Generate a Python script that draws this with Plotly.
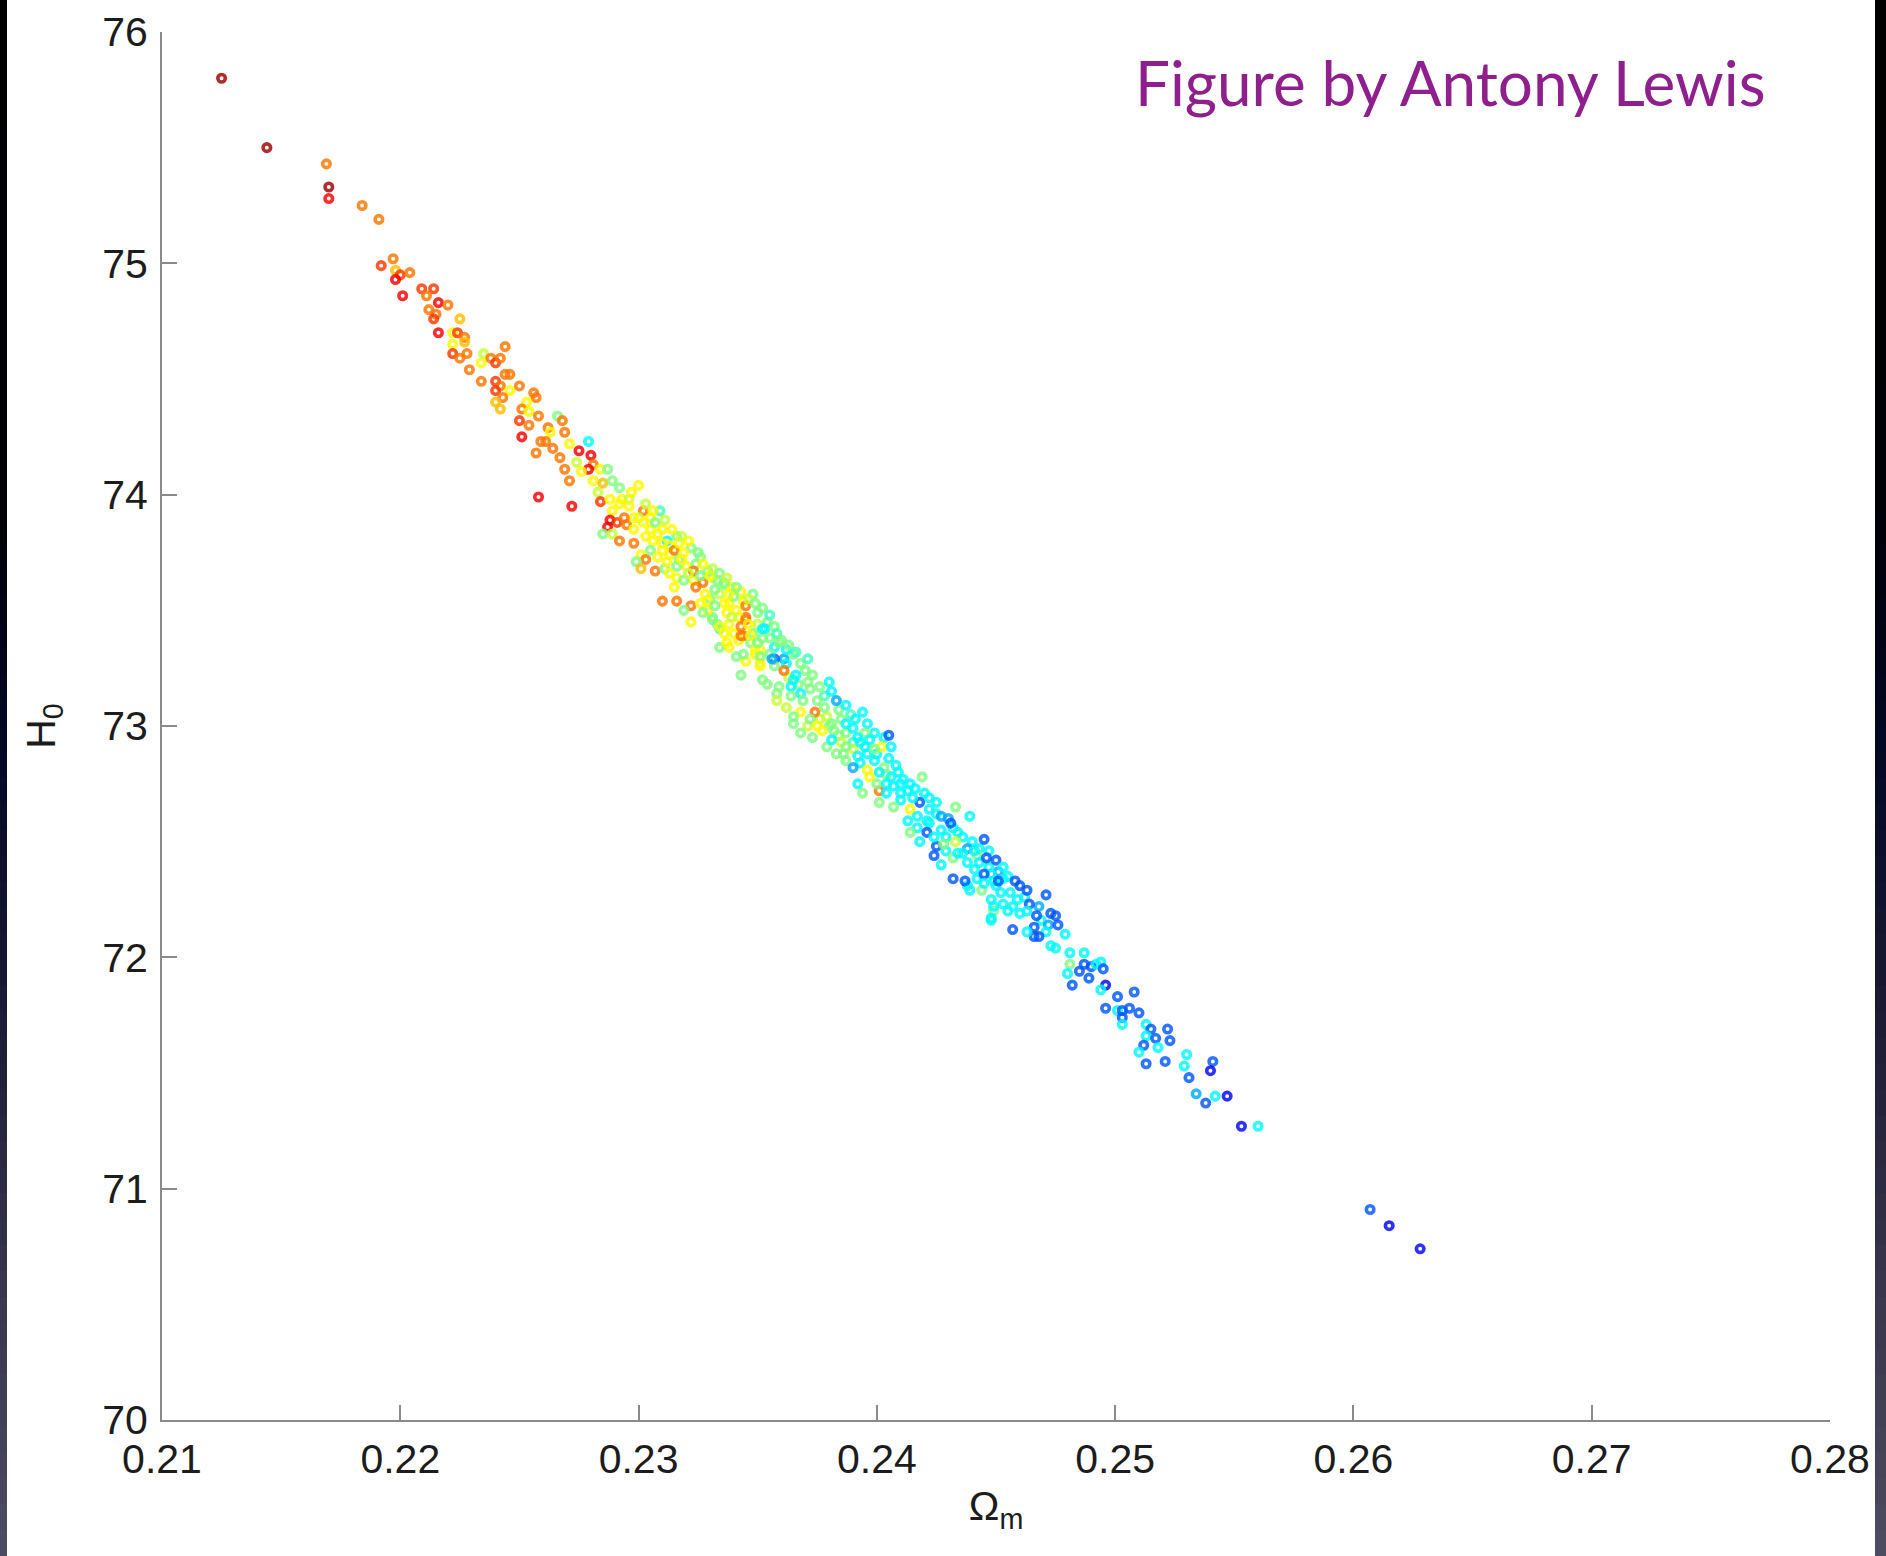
import plotly.graph_objects as go

# Posterior samples: matter density vs Hubble constant, coloured by a third parameter (0..1 on jet scale)
omega_m = [
    # upper tail
    0.2125, 0.2144, 0.2169, 0.2170, 0.2170, 0.2184, 0.2191, 0.2192,
    0.2197, 0.2198, 0.2200, 0.2198, 0.2204, 0.2201, 0.2209, 0.2214,
    0.2211, 0.2216, 0.2220, 0.2212, 0.2215, 0.2214, 0.2225, 0.2216,
    0.2222, 0.2224, 0.2227, 0.2227, 0.2222, 0.2244, 0.2222, 0.2225,
    0.2228, 0.2235, 0.2234, 0.2238, 0.2240, 0.2242, 0.2229, 0.2244,
    0.2246, 0.2234, 0.2240, 0.2242, 0.2240, 0.2246, 0.2250, 0.2243,
    0.2240, 0.2242, 0.2256, 0.2257, 0.2253, 0.2251, 0.2254, 0.2258,
    0.2266, 0.2250, 0.2254, 0.2262, 0.2268, 0.2263, 0.2251,
    # upper core
    0.2279, 0.2257, 0.2258, 0.2272, 0.2271, 0.2269, 0.2267, 0.2264,
    0.2259, 0.2261, 0.2269, 0.2271, 0.2275, 0.2280, 0.2274, 0.2281,
    0.2279, 0.2276, 0.2284, 0.2287, 0.2281, 0.2285, 0.2289, 0.2292,
    0.2283, 0.2284, 0.2288, 0.2293, 0.2296, 0.2300, 0.2289, 0.2288,
    0.2291, 0.2287, 0.2285, 0.2289, 0.2295, 0.2298, 0.2302, 0.2305,
    0.2309, 0.2300, 0.2292, 0.2298, 0.2303, 0.2308, 0.2312, 0.2316,
    0.2310, 0.2301, 0.2303, 0.2299, 0.2301, 0.2307, 0.2311, 0.2313,
    0.2317, 0.2322, 0.2326, 0.2320, 0.2316, 0.2323, 0.2327, 0.2331,
    0.2336, 0.2315, 0.2310, 0.2316, 0.2322, 0.2319, 0.2322, 0.2326,
    0.2330, 0.2334, 0.2343, 0.2348, 0.2338, 0.2331, 0.2337, 0.2341,
    0.2345, 0.2350, 0.2354, 0.2353, 0.2334, 0.2340, 0.2344, 0.2338,
    0.2334, 0.2347, 0.2351, 0.2357, 0.2359, 0.2361, 0.2357, 0.2365,
    0.2345, 0.2351,
    # core, dense part
    0.2292, 0.2296, 0.2298, 0.2294, 0.2302, 0.2305, 0.2307, 0.2310,
    0.2306, 0.2313, 0.2310, 0.2315, 0.2317, 0.2305, 0.2308, 0.2312,
    0.2316, 0.2319, 0.2324, 0.2323, 0.2326, 0.2329, 0.2333, 0.2319,
    0.2313, 0.2324, 0.2328, 0.2332, 0.2339, 0.2340, 0.2344, 0.2345,
    0.2350, 0.2342, 0.2336, 0.2329, 0.2333, 0.2338, 0.2343, 0.2348,
    0.2352, 0.2342, 0.2355, 0.2349, 0.2362,
    0.2336, 0.2329, 0.2332, 0.2345, 0.2327, 0.2334, 0.2343, 0.2352,
    0.2349, 0.2351, 0.2341, 0.2330, 0.2331, 0.2347, 0.2350, 0.2337,
    0.2344, 0.2357, 0.2351, 0.2362,
    0.2297, 0.2303, 0.2306, 0.2311, 0.2314, 0.2318, 0.2321, 0.2318,
    0.2321, 0.2325, 0.2327, 0.2331, 0.2334, 0.2337, 0.2338, 0.2341,
    0.2346, 0.2349, 0.2352, 0.2355, 0.2357, 0.2346, 0.2339, 0.2336,
    0.2355, 0.2358, 0.2360, 0.2363, 0.2366, 0.2368, 0.2370, 0.2363,
    0.2367, 0.2371, 0.2376, 0.2378, 0.2381, 0.2384, 0.2389, 0.2391,
    0.2396, 0.2399, 0.2403, 0.2395, 0.2376, 0.2380, 0.2384, 0.2390,
    0.2395, 0.2400, 0.2405, 0.2409, 0.2404, 0.2416, 0.2420, 0.2425,
    0.2425, 0.2430, 0.2432, 0.2436, 0.2440, 0.2438, 0.2443, 0.2447,
    0.2442, 0.2447, 0.2451, 0.2455, 0.2462, 0.2468, 0.2469, 0.2472,
    # lower core
    0.2371, 0.2373, 0.2380, 0.2366, 0.2361, 0.2356, 0.2343, 0.2352,
    0.2358, 0.2364, 0.2368, 0.2372, 0.2375, 0.2383, 0.2387, 0.2394,
    0.2362, 0.2368, 0.2374, 0.2379, 0.2385, 0.2365, 0.2371, 0.2377,
    0.2382, 0.2387, 0.2392, 0.2405, 0.2397, 0.2402, 0.2406, 0.2368,
    0.2379, 0.2385, 0.2390, 0.2396, 0.2383, 0.2387, 0.2393, 0.2399,
    0.2403, 0.2408, 0.2390, 0.2392, 0.2397, 0.2401, 0.2406, 0.2411,
    0.2419, 0.2394, 0.2401, 0.2401, 0.2407, 0.2413, 0.2410, 0.2414,
    0.2418, 0.2422, 0.2422, 0.2427, 0.2433, 0.2439, 0.2413, 0.2417,
    0.2422, 0.2421, 0.2414, 0.2418, 0.2427, 0.2431, 0.2434, 0.2433,
    0.2425, 0.2429, 0.2424, 0.2427, 0.2432, 0.2436, 0.2441, 0.2445,
    0.2438, 0.2443, 0.2446, 0.2450, 0.2453, 0.2432, 0.2438, 0.2444,
    0.2442, 0.2448, 0.2453, 0.2458, 0.2463, 0.2460, 0.2471, 0.2450,
    0.2456, 0.2448, 0.2453, 0.2459, 0.2464, 0.2449, 0.2455, 0.2460,
    0.2467, 0.2473, 0.2475, 0.2476, 0.2448, 0.2457, 0.2466, 0.2471,
    0.2479,
    0.2354, 0.2359, 0.2365, 0.2358, 0.2364, 0.2369, 0.2378, 0.2365,
    0.2372, 0.2375, 0.2381, 0.2387, 0.2390, 0.2373, 0.2381, 0.2387,
    0.2393, 0.2399, 0.2386, 0.2392, 0.2396, 0.2400, 0.2404, 0.2410,
    0.2414, 0.2404, 0.2410, 0.2415, 0.2407, 0.2417, 0.2421, 0.2424,
    0.2429, 0.2428, 0.2434, 0.2441, 0.2445, 0.2449, 0.2445, 0.2452,
    0.2457, 0.2463,
    0.2451, 0.2449, 0.2437, 0.2439, 0.2448,
    # lower tail
    0.2473, 0.2475, 0.2468, 0.2466, 0.2463, 0.2481, 0.2487, 0.2481,
    0.2480, 0.2485, 0.2487, 0.2490, 0.2492, 0.2494, 0.2495, 0.2489,
    0.2482, 0.2496, 0.2494, 0.2508, 0.2501, 0.2496, 0.2501, 0.2503,
    0.2506, 0.2510, 0.2503, 0.2503, 0.2513, 0.2515, 0.2522, 0.2513,
    0.2517, 0.2523, 0.2512, 0.2518, 0.2510, 0.2513, 0.2521, 0.2530,
    0.2529, 0.2541, 0.2540, 0.2531, 0.2534, 0.2538, 0.2542, 0.2547,
    0.2553, 0.2560, 0.2607, 0.2615, 0.2628,
]

h0 = [
    # upper tail
    75.80, 75.50, 75.43, 75.33, 75.28, 75.25, 75.19, 74.99,
    75.02, 74.97, 74.95, 74.93, 74.96, 74.86, 74.89, 74.89,
    74.86, 74.83, 74.82, 74.80, 74.78, 74.76, 74.76, 74.70,
    74.70, 74.70, 74.68, 74.66, 74.65, 74.64, 74.61, 74.59,
    74.61, 74.61, 74.57, 74.59, 74.57, 74.59, 74.54, 74.52,
    74.52, 74.49, 74.49, 74.47, 74.45, 74.45, 74.47, 74.42,
    74.40, 74.37, 74.44, 74.42, 74.40, 74.37, 74.36, 74.34,
    74.34, 74.32, 74.30, 74.29, 74.32, 74.27, 74.25,
    # upper core
    74.23, 74.18, 73.99, 73.95, 74.06, 74.11, 74.16, 74.20,
    74.23, 74.23, 74.27, 74.22, 74.19, 74.17, 74.14, 74.13,
    74.11, 74.10, 74.11, 74.11, 74.06, 74.05, 74.06, 74.03,
    74.01, 73.97, 73.98, 73.98, 73.98, 74.04, 73.93, 73.89,
    73.88, 73.86, 73.83, 73.83, 73.87, 73.85, 73.93, 73.90,
    73.93, 73.90, 73.80, 73.79, 73.82, 73.83, 73.80, 73.82,
    73.79, 73.74, 73.72, 73.71, 73.68, 73.67, 73.68, 73.74,
    73.72, 73.77, 73.73, 73.69, 73.64, 73.63, 73.62, 73.64,
    73.61, 73.60, 73.54, 73.54, 73.52, 73.50, 73.45, 73.53,
    73.55, 73.57, 73.58, 73.57, 73.53, 73.47, 73.49, 73.50,
    73.47, 73.44, 73.45, 73.42, 73.42, 73.40, 73.39, 73.34,
    73.34, 73.36, 73.33, 73.34, 73.36, 73.29, 73.29, 73.31,
    73.28, 73.27,
    # core, dense part
    73.96, 73.95, 73.90, 73.90, 73.88, 73.85, 73.88, 73.85,
    73.80, 73.78, 73.76, 73.76, 73.79, 73.76, 73.73, 73.71,
    73.69, 73.75, 73.70, 73.67, 73.65, 73.67, 73.63, 73.63,
    73.66, 73.60, 73.57, 73.59, 73.60, 73.56, 73.54, 73.52,
    73.49, 73.47, 73.53, 73.50, 73.44, 73.44, 73.43, 73.40,
    73.38, 73.37, 73.31, 73.31, 73.33,
    73.62, 73.54, 73.52, 73.46, 73.49, 73.43, 73.39, 73.42,
    73.33, 73.30, 73.30, 73.65, 73.46, 73.39, 73.36, 73.36,
    73.31, 73.26, 73.26, 73.27,
    74.01, 73.96, 73.93, 73.89, 73.85, 73.82, 73.80, 73.72,
    73.66, 73.75, 73.70, 73.68, 73.66, 73.64, 73.57, 73.60,
    73.55, 73.53, 73.51, 73.48, 73.43, 73.44, 73.47, 73.40,
    73.38, 73.40, 73.37, 73.35, 73.32, 73.27, 73.24, 73.21,
    73.18, 73.19, 73.17, 73.13, 73.15, 73.07, 73.05, 73.03,
    73.01, 72.97, 72.95, 72.97, 73.03, 73.00, 72.96, 72.93,
    72.91, 72.88, 72.86, 72.80, 72.79, 72.73, 72.71, 72.67,
    72.62, 72.60, 72.56, 72.52, 72.50, 72.47, 72.47, 72.46,
    72.44, 72.39, 72.37, 72.35, 72.26, 72.22, 72.16, 72.14,
    # lower core
    73.29, 73.22, 73.19, 73.22, 73.24, 73.29, 73.22, 73.20,
    73.14, 73.17, 73.14, 73.16, 73.11, 73.11, 73.09, 73.06,
    73.08, 73.06, 73.06, 73.04, 73.03, 73.01, 73.00, 72.98,
    72.98, 72.97, 72.95, 72.96, 72.94, 72.91, 72.91, 72.97,
    72.91, 72.93, 72.90, 72.88, 72.88, 72.85, 72.84, 72.85,
    72.82, 72.83, 72.82, 72.75, 72.78, 72.80, 72.78, 72.77,
    72.78, 72.71, 72.72, 72.67, 72.74, 72.72, 72.68, 72.64,
    72.67, 72.69, 72.64, 72.61, 72.65, 72.61, 72.59, 72.56,
    72.58, 72.54, 72.54, 72.50, 72.55, 72.58, 72.54, 72.50,
    72.48, 72.46, 72.44, 72.40, 72.43, 72.45, 72.46, 72.51,
    72.41, 72.41, 72.43, 72.42, 72.39, 72.34, 72.31, 72.29,
    72.34, 72.36, 72.34, 72.33, 72.29, 72.31, 72.27, 72.31,
    72.28, 72.25, 72.23, 72.25, 72.23, 72.20, 72.20, 72.19,
    72.18, 72.19, 72.18, 72.14, 72.17, 72.12, 72.13, 72.11,
    72.10,
    73.18, 73.17, 73.20, 73.11, 73.13, 73.11, 73.08, 73.04,
    73.03, 73.00, 73.01, 73.01, 72.99, 72.95, 72.94, 72.91,
    72.93, 72.90, 72.88, 72.87, 72.81, 72.75, 72.75, 72.75,
    72.75, 72.71, 72.71, 72.69, 72.65, 72.61, 72.59, 72.52,
    72.52, 72.49, 72.45, 72.38, 72.36, 72.33, 72.32, 72.28,
    72.22, 72.20,
    72.33, 72.22, 72.33, 72.29, 72.16,
    # lower tail
    72.05, 72.04, 72.09, 72.09, 72.11, 72.02, 72.02, 71.97,
    71.93, 71.94, 71.97, 71.96, 71.97, 71.98, 71.95, 71.91,
    71.88, 71.88, 71.86, 71.85, 71.83, 71.78, 71.77, 71.77,
    71.78, 71.76, 71.74, 71.71, 71.71, 71.69, 71.69, 71.66,
    71.65, 71.64, 71.62, 71.61, 71.59, 71.54, 71.55, 71.58,
    71.53, 71.55, 71.51, 71.48, 71.41, 71.37, 71.40, 71.40,
    71.27, 71.27, 70.91, 70.84, 70.74,
]

colour = [
    # upper tail
    0.97, 0.97, 0.76, 0.97, 0.88, 0.76, 0.76, 0.82,
    0.76, 0.69, 0.82, 0.88, 0.76, 0.88, 0.82, 0.82,
    0.76, 0.88, 0.76, 0.76, 0.76, 0.82, 0.69, 0.88,
    0.63, 0.82, 0.76, 0.69, 0.63, 0.76, 0.82, 0.76,
    0.76, 0.57, 0.63, 0.76, 0.82, 0.76, 0.76, 0.76,
    0.76, 0.76, 0.82, 0.76, 0.82, 0.63, 0.76, 0.76,
    0.69, 0.69, 0.76, 0.76, 0.63, 0.76, 0.63, 0.76,
    0.50, 0.82, 0.76, 0.76, 0.76, 0.63, 0.88,
    # upper core
    0.37, 0.76, 0.88, 0.88, 0.76, 0.76, 0.76, 0.76,
    0.76, 0.76, 0.76, 0.63, 0.88, 0.88, 0.57, 0.76,
    0.88, 0.63, 0.63, 0.50, 0.63, 0.69, 0.50, 0.50,
    0.57, 0.82, 0.63, 0.63, 0.57, 0.63, 0.63, 0.88,
    0.82, 0.88, 0.50, 0.57, 0.76, 0.63, 0.76, 0.63,
    0.44, 0.57, 0.76, 0.76, 0.63, 0.63, 0.37, 0.50,
    0.63, 0.63, 0.76, 0.50, 0.69, 0.76, 0.50, 0.63,
    0.50, 0.50, 0.50, 0.63, 0.63, 0.63, 0.76, 0.57,
    0.50, 0.63, 0.76, 0.76, 0.76, 0.50, 0.63, 0.63,
    0.50, 0.57, 0.63, 0.50, 0.63, 0.50, 0.63, 0.63,
    0.76, 0.57, 0.50, 0.37, 0.44, 0.63, 0.76, 0.63,
    0.50, 0.50, 0.63, 0.37, 0.50, 0.29, 0.21, 0.50,
    0.63, 0.63,
    # core, dense part
    0.63, 0.63, 0.63, 0.76, 0.63, 0.63, 0.50, 0.63,
    0.63, 0.63, 0.63, 0.76, 0.63, 0.50, 0.63, 0.63,
    0.50, 0.63, 0.50, 0.76, 0.50, 0.50, 0.50, 0.50,
    0.63, 0.76, 0.63, 0.50, 0.63, 0.50, 0.63, 0.76,
    0.50, 0.63, 0.63, 0.63, 0.50, 0.63, 0.76, 0.50,
    0.50, 0.63, 0.50, 0.63, 0.37,
    0.50, 0.63, 0.50, 0.76, 0.50, 0.63, 0.76, 0.37,
    0.63, 0.50, 0.50, 0.63, 0.50, 0.63, 0.50, 0.63,
    0.50, 0.50, 0.63, 0.37,
    0.63, 0.57, 0.63, 0.57, 0.63, 0.57, 0.63, 0.63,
    0.57, 0.50, 0.63, 0.57, 0.50, 0.57, 0.63, 0.50,
    0.57, 0.50, 0.50, 0.44, 0.50, 0.63, 0.57, 0.63,
    0.50, 0.44, 0.50, 0.50, 0.44, 0.50, 0.50, 0.57,
    0.50, 0.50, 0.50, 0.44, 0.37, 0.50, 0.44, 0.37,
    0.37, 0.37, 0.37, 0.50, 0.57, 0.50, 0.50, 0.44,
    0.37, 0.37, 0.37, 0.37, 0.50, 0.37, 0.37, 0.37,
    0.37, 0.29, 0.37, 0.37, 0.37, 0.29, 0.37, 0.37,
    0.50, 0.37, 0.29, 0.37, 0.37, 0.29, 0.37, 0.29,
    # lower core
    0.44, 0.50, 0.37, 0.37, 0.76, 0.29, 0.50, 0.50,
    0.50, 0.37, 0.37, 0.50, 0.50, 0.29, 0.37, 0.37,
    0.57, 0.63, 0.76, 0.57, 0.50, 0.50, 0.57, 0.63,
    0.50, 0.50, 0.37, 0.21, 0.37, 0.63, 0.37, 0.50,
    0.50, 0.57, 0.57, 0.37, 0.50, 0.50, 0.37, 0.37,
    0.50, 0.37, 0.29, 0.37, 0.63, 0.37, 0.37, 0.37,
    0.50, 0.50, 0.76, 0.50, 0.37, 0.37, 0.37, 0.63,
    0.21, 0.37, 0.37, 0.29, 0.50, 0.37, 0.37, 0.37,
    0.37, 0.21, 0.50, 0.37, 0.37, 0.21, 0.37, 0.57,
    0.21, 0.37, 0.21, 0.37, 0.50, 0.37, 0.37, 0.21,
    0.37, 0.37, 0.21, 0.21, 0.37, 0.21, 0.37, 0.50,
    0.37, 0.37, 0.37, 0.21, 0.21, 0.21, 0.21, 0.37,
    0.37, 0.37, 0.37, 0.37, 0.21, 0.50, 0.37, 0.37,
    0.21, 0.21, 0.21, 0.21, 0.37, 0.21, 0.21, 0.37,
    0.37,
    0.50, 0.50, 0.37, 0.57, 0.50, 0.50, 0.50, 0.50,
    0.50, 0.63, 0.50, 0.37, 0.37, 0.50, 0.37, 0.50,
    0.37, 0.50, 0.50, 0.37, 0.63, 0.50, 0.37, 0.37,
    0.37, 0.37, 0.37, 0.37, 0.50, 0.37, 0.37, 0.37,
    0.37, 0.50, 0.37, 0.37, 0.21, 0.37, 0.37, 0.37,
    0.37, 0.37,
    0.21, 0.37, 0.21, 0.37, 0.37,
    # lower tail
    0.37, 0.37, 0.21, 0.21, 0.37, 0.37, 0.37, 0.50,
    0.37, 0.21, 0.21, 0.21, 0.37, 0.37, 0.21, 0.21,
    0.21, 0.13, 0.37, 0.21, 0.21, 0.21, 0.37, 0.21,
    0.21, 0.21, 0.21, 0.37, 0.37, 0.21, 0.21, 0.37,
    0.21, 0.21, 0.21, 0.37, 0.37, 0.21, 0.21, 0.37,
    0.37, 0.21, 0.13, 0.21, 0.29, 0.21, 0.37, 0.13,
    0.13, 0.37, 0.21, 0.13, 0.13,
]

x_ticks = [0.21, 0.22, 0.23, 0.24, 0.25, 0.26, 0.27, 0.28]
y_ticks = [70, 71, 72, 73, 74, 75, 76]

JET = [
    [0.0, "rgb(0,0,128)"], [0.125, "rgb(0,0,255)"], [0.375, "rgb(0,255,255)"],
    [0.625, "rgb(255,255,0)"], [0.875, "rgb(255,0,0)"], [1.0, "rgb(128,0,0)"],
]

W, H = 1886, 1556
ML, MR, MT, MB = 162, 56, 32, 136
PW, PH = W - ML - MR, H - MT - MB


def px(x):
    return (x - ML) / PW


def py(y):
    return (H - MB - y) / PH


def lerp_colour(stops, t):
    for (t0, c0), (t1, c1) in zip(stops, stops[1:]):
        if t0 <= t <= t1:
            f = (t - t0) / (t1 - t0)
            return "rgb(%d,%d,%d)" % tuple(round(a + (b - a) * f) for a, b in zip(c0, c1))
    return "rgb(%d,%d,%d)" % stops[-1][1]


# dark slide backdrop, fading from black to slate towards the bottom
backdrop = [(0.0, (0, 0, 0)), (0.33, (0, 0, 6)), (0.48, (4, 8, 36)),
            (0.65, (28, 26, 52)), (0.82, (55, 52, 75)), (1.0, (78, 76, 96))]
shapes = []
n_bands = 60
for i in range(n_bands):
    y0, y1 = H * i / n_bands, H * (i + 1) / n_bands + 1
    shapes.append(dict(type="rect", xref="paper", yref="paper", layer="below",
                       x0=px(0), x1=px(W), y0=py(y1), y1=py(y0), line_width=0,
                       fillcolor=lerp_colour(backdrop, (i + 0.5) / n_bands)))
shapes.append(dict(type="rect", xref="paper", yref="paper", layer="below",
                   x0=px(7), x1=px(1875), y0=py(H + 2), y1=py(-2), line_width=0,
                   fillcolor="white"))

fig = go.Figure(go.Scatter(
    x=omega_m, y=h0, mode="markers",
    marker=dict(symbol="circle-open", size=7.5, color=colour, colorscale=JET,
                cmin=0, cmax=1, opacity=0.82, line=dict(width=3.6)),
    showlegend=False,
))

axis_font = dict(family="Liberation Sans, Arial, sans-serif", size=41, color="#1c1c1c")
axis_common = dict(showline=True, linecolor="#8a8a8a", linewidth=2, ticks="inside",
                   ticklen=15, tickwidth=2, tickcolor="#8a8a8a", showgrid=False,
                   zeroline=False, mirror=False, tickfont=axis_font)

fig.update_layout(
    width=W, height=H, margin=dict(l=ML, r=MR, t=MT, b=MB, autoexpand=False),
    paper_bgcolor="black", plot_bgcolor="rgba(0,0,0,0)",
    shapes=shapes,
    xaxis=dict(range=[0.21, 0.28], tickvals=x_ticks, tickformat=".2f",
               ticklabelstandoff=2,
               title=dict(text="Ω<sub>m</sub>", font=axis_font, standoff=10),
               **axis_common),
    yaxis=dict(range=[70, 76], tickvals=y_ticks, ticklabelstandoff=4,
               title=dict(text="H<sub>0</sub>", font=axis_font, standoff=34),
               **axis_common),
    annotations=[dict(text="Figure by Antony Lewis", xref="paper", yref="paper",
                      x=px(1767), y=py(82), xanchor="right", yanchor="middle",
                      showarrow=False,
                      font=dict(family="Lato, sans-serif", size=62, color="#8e1f8c"))],
)

fig.write_html("out.html")
